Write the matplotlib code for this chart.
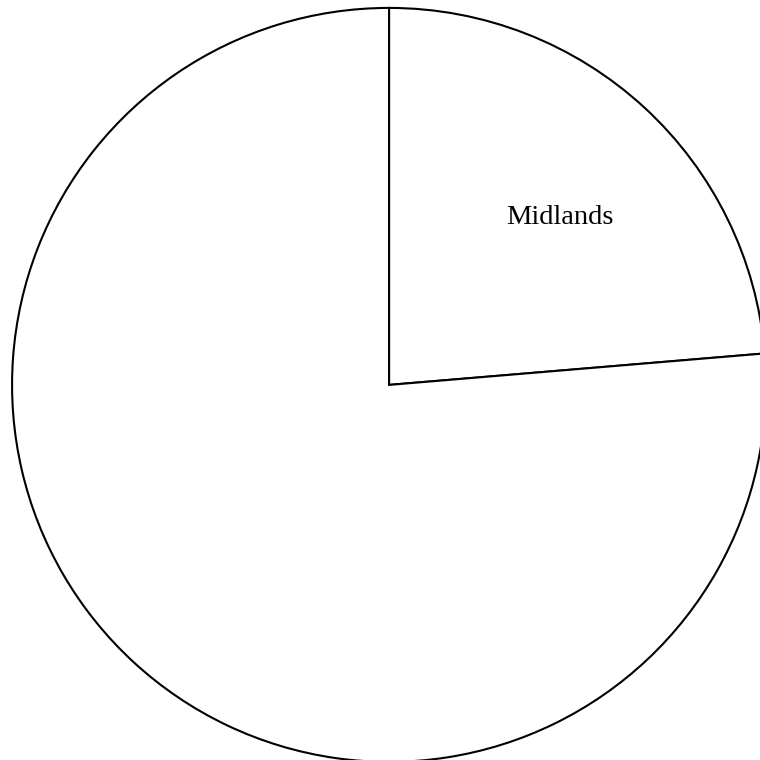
import numpy as np
import matplotlib.pyplot as plt

regions = ['Midlands', '']
shares = [23.67, 76.33]

fig = plt.figure(figsize=(7.6, 7.6), dpi=100)
ax = fig.add_axes([0, 0, 1, 1])

wedges, texts = ax.pie(shares, labels=regions, startangle=90, counterclock=False,
                       colors=['white', 'white'], labeldistance=0.635,
                       wedgeprops={'edgecolor': 'black', 'linewidth': 1.5},
                       textprops={'family': 'Liberation Serif', 'fontsize': 20.5,
                                  'ha': 'center', 'va': 'center'})

# label sits a little clockwise of the wedge midpoint in the original
w = wedges[0]
ang = np.deg2rad((w.theta1 + w.theta2) / 2 - 3.0)
texts[0].set_position((0.635 * np.cos(ang), 0.635 * np.sin(ang)))

# pie is slightly cropped at the right and bottom edges
ax.set_xlim(-1.032, 0.984)
ax.set_ylim(-0.995, 1.021)
ax.set_aspect('equal')
ax.axis('off')

fig.savefig('out.png', dpi=100)
